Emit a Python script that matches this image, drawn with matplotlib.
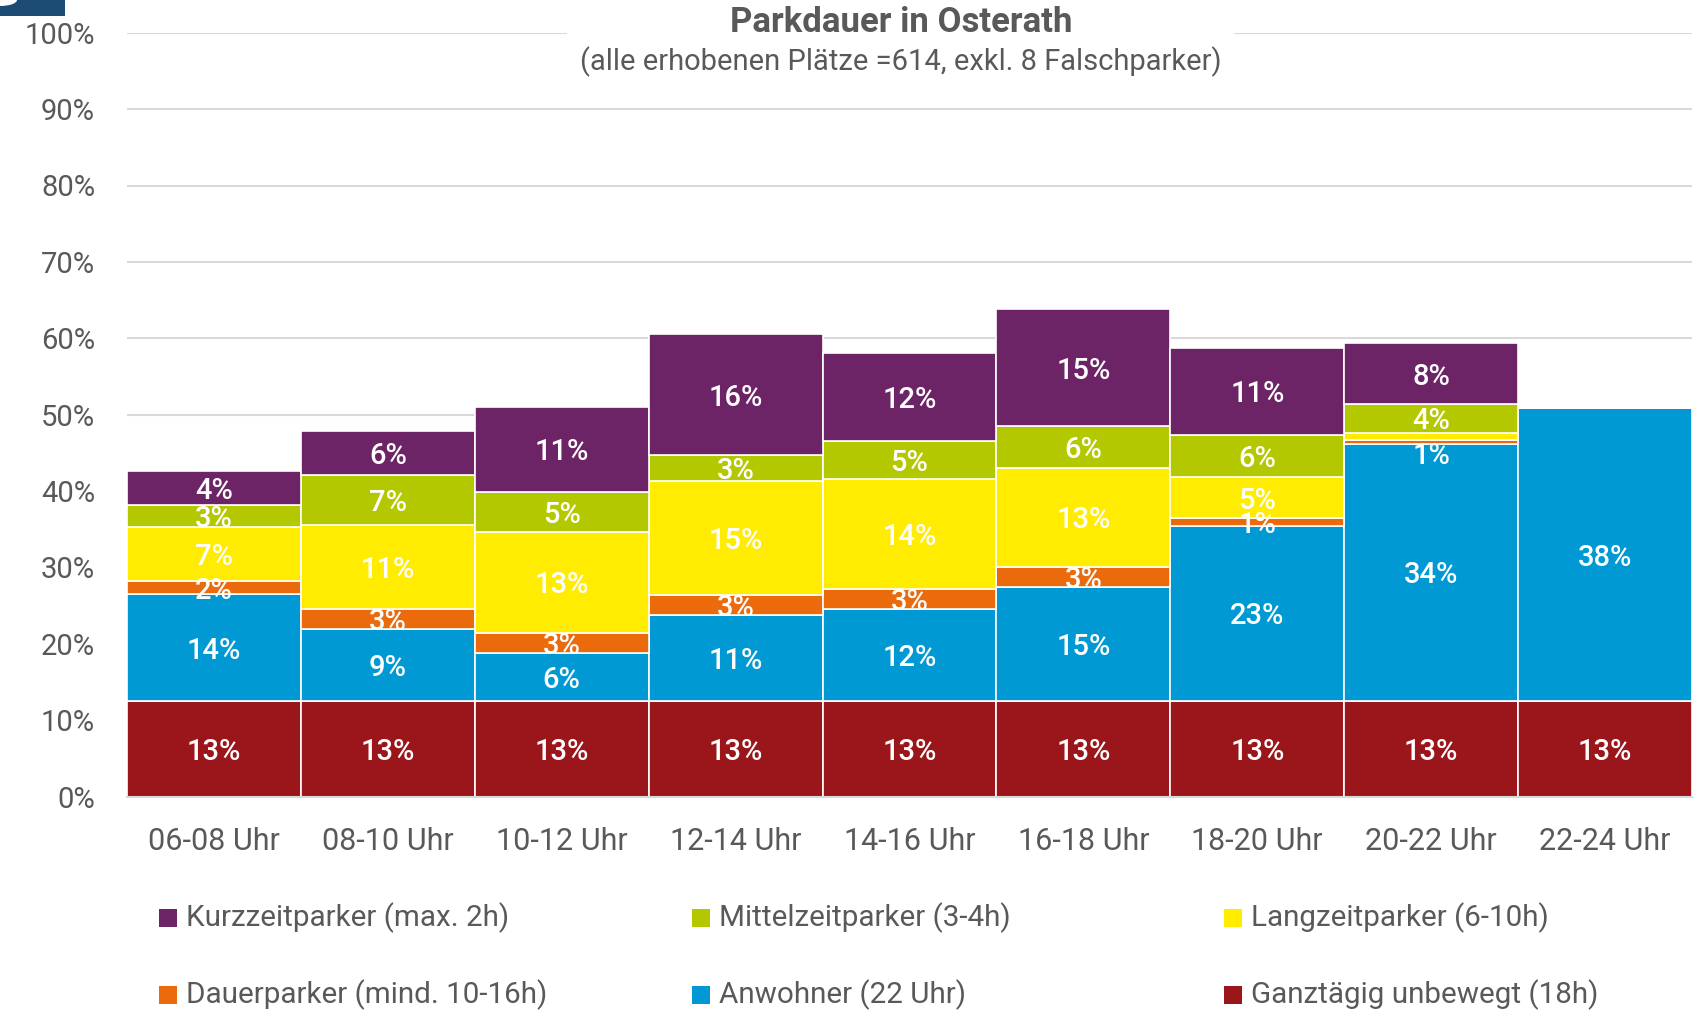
import matplotlib
matplotlib.use("Agg")
import matplotlib.pyplot as plt
from matplotlib.patches import Rectangle, Ellipse
import numpy as np

W, H = 1700, 1011

categories = ["06-08 Uhr", "08-10 Uhr", "10-12 Uhr", "12-14 Uhr", "14-16 Uhr",
              "16-18 Uhr", "18-20 Uhr", "20-22 Uhr", "22-24 Uhr"]

# shares in percent, stacked from bottom to top
ganztaegig = [12.5, 12.5, 12.5, 12.5, 12.5, 12.5, 12.5, 12.5, 12.5]
anwohner   = [14.0, 9.45, 6.35, 11.24, 12.03, 15.0, 22.97, 33.7, 38.4]
dauer      = [1.7, 2.6, 2.6, 2.6, 2.67, 2.6, 0.97, 0.45, 0.0]
langzeit   = [7.1, 11.0, 13.2, 15.0, 14.35, 12.9, 5.4, 1.0, 0.0]
mittelzeit = [2.9, 6.5, 5.2, 3.4, 5.0, 5.5, 5.55, 3.74, 0.0]
kurzzeit   = [4.4, 5.8, 11.2, 15.8, 11.55, 15.3, 11.37, 7.94, 0.0]

# data labels as printed in the chart ("" = no label)
lab_ganz   = ["13%"] * 9
lab_anw    = ["14%", "9%", "6%", "11%", "12%", "15%", "23%", "34%", "38%"]
lab_dauer  = ["2%", "3%", "3%", "3%", "3%", "3%", "1%", "1%", ""]
lab_lang   = ["7%", "11%", "13%", "15%", "14%", "13%", "5%", "", ""]
lab_mittel = ["3%", "7%", "5%", "3%", "5%", "6%", "6%", "4%", ""]
lab_kurz   = ["4%", "6%", "11%", "16%", "12%", "15%", "11%", "8%", ""]

names = ["Ganztägig unbewegt (18h)", "Anwohner (22 Uhr)", "Dauerparker (mind. 10-16h)",
         "Langzeitparker (6-10h)", "Mittelzeitparker (3-4h)", "Kurzzeitparker (max. 2h)"]
colors = ["#9b161b", "#0099d3", "#ea6a0c", "#ffec00", "#b3c800", "#6d2466"]

series = [ganztaegig, anwohner, dauer, langzeit, mittelzeit, kurzzeit]
labels = [lab_ganz, lab_anw, lab_dauer, lab_lang, lab_mittel, lab_kurz]

GREY = "#595959"
NARROW = ["Liberation Sans Narrow", "Roboto", "DejaVu Sans"]
ROBOTO = ["Roboto", "DejaVu Sans"]

fig = plt.figure(figsize=(W / 100, H / 100), dpi=100)
ax = fig.add_axes([127 / W, 1 - 796.7 / H, (1692 - 127) / W, (796.7 - 32.7) / H])

x = np.arange(len(categories))
bottom = np.zeros(len(categories))
for vals, labs, col in zip(series, labels, colors):
    vals = np.array(vals)
    ax.bar(x, vals, 1.0, bottom=bottom, color=col, edgecolor="white",
           linewidth=1.2, zorder=2)
    for xi, b, v, t in zip(x, bottom, vals, labs):
        if t:
            yc = b + v / 2
            if v < 0.8:
                # very thin slice: label sits just below it
                yc -= 1.5
            ax.text(xi, yc, t, ha="center", va="center_baseline", color="white",
                    fontsize=21, fontweight=500, family=ROBOTO, zorder=3)
    bottom += vals

ax.set_xlim(-0.5, len(categories) - 0.5)
ax.set_ylim(0, 100)
ax.set_yticks(np.arange(0, 101, 10))
ax.set_yticklabels([f"{v}%" for v in range(0, 101, 10)])
ax.set_xticks(x)
ax.set_xticklabels(categories)
ax.yaxis.grid(True, color="#d9d9d9", linewidth=1.5)
ax.set_axisbelow(True)
for s in ["top", "left", "right"]:
    ax.spines[s].set_visible(False)
ax.spines["bottom"].set_color("#d9d9d9")
ax.spines["bottom"].set_linewidth(1.5)
ax.tick_params(axis="y", length=0, pad=23, labelsize=21, labelcolor=GREY)
ax.tick_params(axis="x", length=0, pad=21.5, labelsize=22, labelcolor=GREY)
for lab in ax.get_xticklabels() + ax.get_yticklabels():
    lab.set_family(ROBOTO)

# white box behind the title, cutting the 100% gridline
fig.patches.append(Rectangle((567 / W, 1 - 44 / H), (1234 - 567) / W, 20 / H,
                             transform=fig.transFigure, facecolor="white",
                             edgecolor="none", zorder=1))
fig.text(901 / W, 1 - 32 / H, "Parkdauer in Osterath", ha="center", va="baseline",
         fontsize=25, fontweight="bold", color=GREY, family=NARROW, zorder=3)
fig.text(901 / W, 1 - 70 / H, "(alle erhobenen Plätze =614, exkl. 8 Falschparker)",
         ha="center", va="baseline", fontsize=21, color=GREY, family=NARROW, zorder=3)

# legend, laid out as in the original (3 columns, 2 rows)
legend_order = [5, 4, 3, 2, 1, 0]
col_x = [159, 692, 1224]
row_y = [918, 995]
for k, idx in enumerate(legend_order):
    cx = col_x[k % 3]
    cy = row_y[k // 3]
    fig.patches.append(Rectangle((cx / W, 1 - (cy + 9) / H), 17.5 / W, 18 / H,
                                 transform=fig.transFigure, facecolor=colors[idx],
                                 edgecolor="none"))
    fig.text((cx + 27) / W, 1 - cy / H, names[idx], ha="left", va="center",
             fontsize=21.3, color=GREY, family=NARROW)

# cut-off logo corner at top left
fig.patches.append(Rectangle((0, 1 - 16 / H), 65 / W, 16 / H, transform=fig.transFigure,
                             facecolor="#1b4a73", edgecolor="none"))
fig.patches.append(Ellipse((0, 1), 34 / W, 12 / H, transform=fig.transFigure,
                           facecolor="white", edgecolor="none"))

fig.savefig("out.png", dpi=100)
